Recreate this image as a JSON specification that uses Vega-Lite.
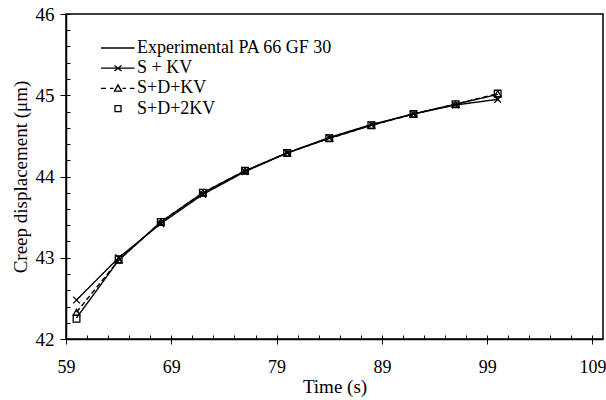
{
  "$schema": "https://vega.github.io/schema/vega-lite/v6.json",
  "width": 537,
  "height": 325,
  "autosize": {"type": "none"},
  "padding": {"left": 66, "top": 14, "right": 3, "bottom": 61},
  "background": "white",
  "config": {
    "view": {"stroke": "black", "strokeWidth": 1.5},
    "font": "Liberation Serif",
    "axis": {
      "labelFont": "Liberation Serif", "labelFontSize": 19, "labelColor": "black",
      "titleFont": "Liberation Serif", "titleFontSize": 19, "titleFontWeight": "normal", "titleColor": "black",
      "domainColor": "black", "domainWidth": 1.5, "tickColor": "black", "tickWidth": 1,
      "grid": false, "labelOverlap": false, "labelFlush": false
    },
    "legend": {
      "orient": "none", "legendX": 45, "legendY": 25, "padding": 0,
      "labelFont": "Liberation Serif", "labelFontSize": 18, "labelColor": "black",
      "labelOffset": 8, "labelLimit": 400, "symbolSize": 100, "rowPadding": 2.2,
      "symbolStrokeColor": "black", "symbolFillColor": "transparent", "symbolStrokeWidth": 1.3
    }
  },
  "data": {
    "values": [
      {"t": 60, "y": 42.26, "s": "Experimental PA 66 GF 30"},
      {"t": 64, "y": 42.97, "s": "Experimental PA 66 GF 30"},
      {"t": 68, "y": 43.44, "s": "Experimental PA 66 GF 30"},
      {"t": 72, "y": 43.80, "s": "Experimental PA 66 GF 30"},
      {"t": 76, "y": 44.07, "s": "Experimental PA 66 GF 30"},
      {"t": 80, "y": 44.29, "s": "Experimental PA 66 GF 30"},
      {"t": 84, "y": 44.47, "s": "Experimental PA 66 GF 30"},
      {"t": 88, "y": 44.63, "s": "Experimental PA 66 GF 30"},
      {"t": 92, "y": 44.77, "s": "Experimental PA 66 GF 30"},
      {"t": 96, "y": 44.89, "s": "Experimental PA 66 GF 30"},
      {"t": 100, "y": 45.01, "s": "Experimental PA 66 GF 30"},
      {"t": 60, "y": 42.48, "s": "S + KV"},
      {"t": 64, "y": 43.00, "s": "S + KV"},
      {"t": 68, "y": 43.42, "s": "S + KV"},
      {"t": 72, "y": 43.78, "s": "S + KV"},
      {"t": 76, "y": 44.06, "s": "S + KV"},
      {"t": 80, "y": 44.29, "s": "S + KV"},
      {"t": 84, "y": 44.48, "s": "S + KV"},
      {"t": 88, "y": 44.64, "s": "S + KV"},
      {"t": 92, "y": 44.77, "s": "S + KV"},
      {"t": 96, "y": 44.88, "s": "S + KV"},
      {"t": 100, "y": 44.95, "s": "S + KV"},
      {"t": 60, "y": 42.33, "s": "S+D+KV"},
      {"t": 64, "y": 42.97, "s": "S+D+KV"},
      {"t": 68, "y": 43.44, "s": "S+D+KV"},
      {"t": 72, "y": 43.80, "s": "S+D+KV"},
      {"t": 76, "y": 44.07, "s": "S+D+KV"},
      {"t": 80, "y": 44.29, "s": "S+D+KV"},
      {"t": 84, "y": 44.47, "s": "S+D+KV"},
      {"t": 88, "y": 44.63, "s": "S+D+KV"},
      {"t": 92, "y": 44.77, "s": "S+D+KV"},
      {"t": 96, "y": 44.89, "s": "S+D+KV"},
      {"t": 100, "y": 45.02, "s": "S+D+KV"},
      {"t": 60, "y": 42.25, "s": "S+D+2KV"},
      {"t": 64, "y": 42.98, "s": "S+D+2KV"},
      {"t": 68, "y": 43.44, "s": "S+D+2KV"},
      {"t": 72, "y": 43.80, "s": "S+D+2KV"},
      {"t": 76, "y": 44.07, "s": "S+D+2KV"},
      {"t": 80, "y": 44.29, "s": "S+D+2KV"},
      {"t": 84, "y": 44.47, "s": "S+D+2KV"},
      {"t": 88, "y": 44.63, "s": "S+D+2KV"},
      {"t": 92, "y": 44.77, "s": "S+D+2KV"},
      {"t": 96, "y": 44.89, "s": "S+D+2KV"},
      {"t": 100, "y": 45.02, "s": "S+D+2KV"}
    ]
  },
  "resolve": {
    "scale": {"shape": "independent", "strokeDash": "independent"},
    "axis": {"x": "independent", "y": "independent"}
  },
  "layer": [
    {
      "transform": [{"filter": "datum.s != 'S+D+2KV'"}],
      "mark": {"type": "line", "color": "black", "strokeWidth": 1.4},
      "encoding": {
        "x": {"field": "t", "type": "quantitative", "scale": {"domain": [59, 110], "nice": false, "zero": false},
              "axis": {"orient": "bottom", "values": [59, 69, 79, 89, 99, 109], "labelFontSize": 18, "tickSize": 5, "labelPadding": 14, "title": "Time (s)", "titlePadding": 1}},
        "y": {"field": "y", "type": "quantitative", "scale": {"domain": [42, 46], "nice": false, "zero": false},
              "axis": {"orient": "left", "values": [42, 43, 44, 45, 46], "format": "d", "tickSize": 6, "labelPadding": 6, "title": "Creep displacement (μm)", "titlePadding": 5}},
        "detail": {"field": "s"},
        "strokeDash": {"field": "s", "type": "nominal", "legend": null,
                       "scale": {"domain": ["Experimental PA 66 GF 30", "S + KV", "S+D+KV"], "range": [[1, 0], [1, 0], [5, 3]]}}
      }
    },
    {
      "transform": [{"filter": "datum.s != 'Experimental PA 66 GF 30'"}],
      "mark": {"type": "point", "filled": false, "color": "black", "strokeWidth": 1.3, "size": 45, "opacity": 1},
      "encoding": {
        "x": {"field": "t", "type": "quantitative",
              "axis": {"orient": "bottom", "values": [59,61,63,65,67,69,71,73,75,77,79,81,83,85,87,89,91,93,95,97,99,101,103,105,107,109], "tickSize": -4, "labels": false, "domain": false, "title": null}},
        "y": {"field": "y", "type": "quantitative",
              "axis": {"orient": "left", "values": [42,42.2,42.4,42.6,42.8,43,43.2,43.4,43.6,43.8,44,44.2,44.4,44.6,44.8,45,45.2,45.4,45.6,45.8,46], "tickSize": -4, "labels": false, "domain": false, "title": null}},
        "shape": {"field": "s", "type": "nominal", "legend": null,
                  "scale": {"domain": ["S + KV", "S+D+KV", "S+D+2KV"], "range": ["M-1,-1L1,1M-1,1L1,-1", "triangle-up", "square"]}}
      }
    },
    {
      "mark": {"type": "point", "filled": false, "opacity": 0},
      "encoding": {
        "x": {"field": "t", "type": "quantitative", "axis": null},
        "y": {"field": "y", "type": "quantitative", "axis": null},
        "shape": {"field": "s", "type": "nominal",
                  "scale": {"domain": ["Experimental PA 66 GF 30", "S + KV", "S+D+KV", "S+D+2KV"],
                            "range": ["M-3.8,0H2.9", "M-3.8,0H2.9M-1.1,-0.55L0.3,0.55M-1.1,0.55L0.3,-0.55", "M-3.8,0H-2.8M-2.0,0H-1.3M0.5,0H1.2M2.0,0H2.9M-0.4,-0.7L0.3,0.55L-1.1,0.55Z", "M-1.0,-0.6H0.2V0.6H-1.0Z"]},
                  "legend": {"title": null,
                             "encode": {"symbols": {"update": {"opacity": {"value": 1}, "stroke": {"value": "black"}, "fill": {"value": "transparent"}, "strokeWidth": {"value": 1.3}}}}}}
      }
    }
  ]
}
